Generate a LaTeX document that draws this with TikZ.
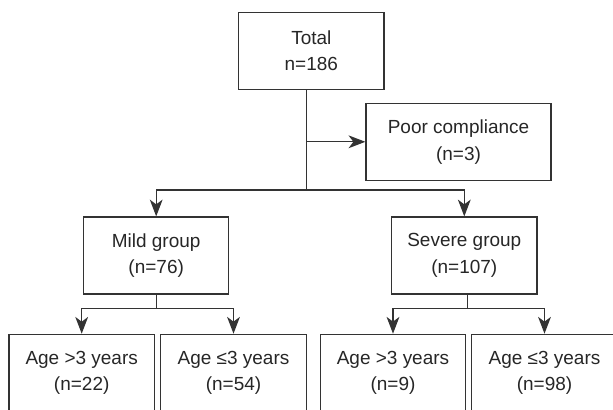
\documentclass[tikz,border=0pt]{standalone}
\usepackage{fontspec}
\setmainfont{Liberation Sans}
\usetikzlibrary{arrows.meta,positioning}

\begin{document}
\begin{tikzpicture}[x=0.025cm, y=-0.025cm,
    box/.style={rectangle, draw=black!80, line width=0.03cm, minimum width=3.63cm, minimum height=1.925cm, align=center, text=black!85, font=\fontsize{13.5}{19}\selectfont},
    link/.style={draw=black!80, line width=0.03cm},
    arr/.style={link, -{Stealth[length=0.42cm, width=0.32cm, inset=0.12cm]}}]
    \useasboundingbox (0,0) rectangle (613,409);
    \def\top{50.8}
    \def\mid{255.5}
    \def\low{372.8}
    \node(total) [box] at (311.3,\top) {Total\\n=186};
    \node(poor) [box, minimum width=4.625cm] at (458.5,141.8) {Poor compliance\\(n=3)};
    \node(mild) [box] at (156.2,\mid) {Mild group\\(n=76)};
    \node(severe) [box] at (464.3,\mid) {Severe group\\(n=107)};
    \node(mildold) [box] at (81.7,\low) {Age >3 years\\(n=22)};
    \node(mildyoung) [box] at (233.5,\low) {Age ≤3 years\\(n=54)};
    \node(severeold) [box] at (393,\low) {Age >3 years\\(n=9)};
    \node(severeyoung) [box] at (544.5,\low) {Age ≤3 years\\(n=98)};

    \coordinate (fork) at (306.5,190);
    \coordinate (mildfork) at (156.2,308.3);
    \coordinate (severefork) at (467.2,308.3);

    \draw[link] (fork |- total.south) -- (fork);
    \draw[arr] (fork |- poor.west) -- (poor.west);
    \draw[arr] (fork) -| (mild.north);
    \draw[arr] (fork) -| (severe.north);

    \draw[link] (mild.south) -- (mildfork);
    \draw[arr] (mildfork) -| (mildold.north);
    \draw[arr] (mildfork) -| (mildyoung.north);

    \draw[link] (severefork |- severe.south) -- (severefork);
    \draw[arr] (severefork) -| (severeold.north);
    \draw[arr] (severefork) -| (severeyoung.north);
\end{tikzpicture}
\end{document}
